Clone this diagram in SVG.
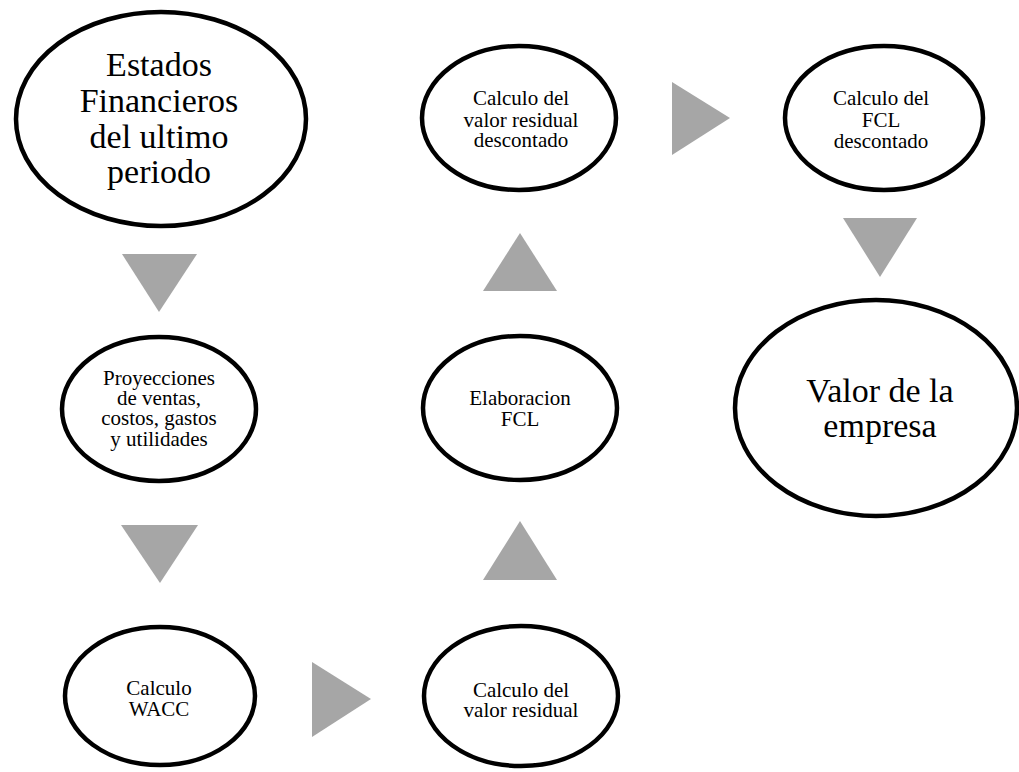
<svg xmlns="http://www.w3.org/2000/svg" width="1019" height="772" viewBox="0 0 1019 772">
<style>
.n{fill:#fff;stroke:#000;stroke-width:4.5}
.t{font-family:"Liberation Serif","Times New Roman",serif;fill:#000;text-anchor:middle}
.s{font-size:21px}
.b{font-size:34px}
.a{fill:#a6a6a6}
</style>
<rect width="1019" height="772" fill="#fff"/>
<g id="connectors">
<polygon class="a" points="122,254 197,254 159,312"/>
<polygon class="a" points="121,525 198,525 160,583"/>
<polygon class="a" points="312,662 312,737 371,699"/>
<polygon class="a" points="483,580 557,580 520,521"/>
<polygon class="a" points="483,291 557,291 520,233"/>
<polygon class="a" points="672,82 672,155 730,118"/>
<polygon class="a" points="843,218 917,218 880,277"/>
</g>
<g id="n1">
<ellipse class="n" cx="161" cy="119" rx="145" ry="107"/>
<text class="t b" x="159" y="76">Estados</text>
<text class="t b" x="159" y="112">Financieros</text>
<text class="t b" x="159" y="148">del ultimo</text>
<text class="t b" x="159" y="183">periodo</text>
</g>
<g id="n2">
<ellipse class="n" cx="159" cy="409" rx="97" ry="72"/>
<text class="t s" x="159" y="385">Proyecciones</text>
<text class="t s" x="159" y="405">de ventas,</text>
<text class="t s" x="159" y="425">costos, gastos</text>
<text class="t s" x="159" y="446">y utilidades</text>
</g>
<g id="n3">
<ellipse class="n" cx="160" cy="696" rx="95" ry="69"/>
<text class="t s" x="159" y="695">Calculo</text>
<text class="t s" x="159" y="716">WACC</text>
</g>
<g id="n4">
<ellipse class="n" cx="521" cy="696" rx="97" ry="70"/>
<text class="t s" x="521" y="697">Calculo del</text>
<text class="t s" x="521" y="717">valor residual</text>
</g>
<g id="n5">
<ellipse class="n" cx="520" cy="408" rx="97" ry="72"/>
<text class="t s" x="520" y="405">Elaboracion</text>
<text class="t s" x="520" y="426">FCL</text>
</g>
<g id="n6">
<ellipse class="n" cx="519" cy="118" rx="97" ry="72"/>
<text class="t s" x="521" y="105">Calculo del</text>
<text class="t s" x="521" y="127">valor residual</text>
<text class="t s" x="521" y="147">descontado</text>
</g>
<g id="n7">
<ellipse class="n" cx="884" cy="118" rx="99" ry="72"/>
<text class="t s" x="881" y="105">Calculo del</text>
<text class="t s" x="881" y="127">FCL</text>
<text class="t s" x="881" y="148">descontado</text>
</g>
<g id="n8">
<ellipse class="n" cx="876" cy="408" rx="141" ry="108"/>
<text class="t b" x="880" y="402">Valor de la</text>
<text class="t b" x="880" y="437">empresa</text>
</g>
</svg>
